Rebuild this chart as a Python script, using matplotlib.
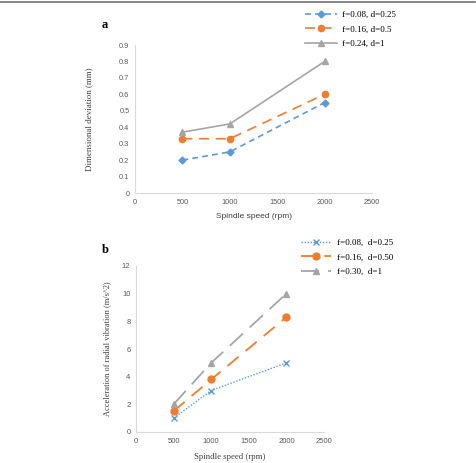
import numpy as np
import matplotlib
matplotlib.use("Agg")
import matplotlib.pyplot as plt
from matplotlib.lines import Line2D

# dane z wykresu
speed = [500, 1000, 2000]

dev_labels = ["f=0.08, d=0.25", "f=0.16, d=0.5", "f=0.24, d=1"]
dev_low = [0.20, 0.25, 0.55]
dev_mid = [0.33, 0.33, 0.60]
dev_high = [0.37, 0.42, 0.80]

acc_labels = ["f=0.08,  d=0.25", "f=0.16,  d=0.50", "f=0.30,  d=1"]
acc_low = [1.0, 3.0, 5.0]
acc_mid = [1.5, 3.8, 8.3]
acc_high = [2.0, 5.0, 10.0]

x_ticks = [0, 500, 1000, 1500, 2000, 2500]
dev_ticks = [0, 0.1, 0.2, 0.3, 0.4, 0.5, 0.6, 0.7, 0.8, 0.9]
acc_ticks = [0, 2, 4, 6, 8, 10, 12]

blue = "#5B9BD5"
orange = "#ED7D31"
gray = "#A5A5A5"
serif = "Liberation Serif"
sans = "Liberation Sans"

W, H = 477, 463
fig = plt.figure(figsize=(W / 100, H / 100), dpi=100)


def px_axes(l, t, r, b):
    return fig.add_axes([l / W, 1 - b / H, (r - l) / W, (b - t) / H])


def style(ax, fs):
    for s in ["top", "right"]:
        ax.spines[s].set_visible(False)
    for s in ["left", "bottom"]:
        ax.spines[s].set_color("#D9D9D9")
        ax.spines[s].set_linewidth(0.8)
    ax.tick_params(length=0, pad=4, labelsize=fs, colors="#595959")
    for lab in ax.get_xticklabels() + ax.get_yticklabels():
        lab.set_fontfamily(sans)


# panel a
ax1 = px_axes(135, 45, 372, 193)
ax1.plot(speed, dev_low, color=blue, lw=1.2, ls=(0, (3.5, 2.5)), marker="D", ms=3.5, label=dev_labels[0])
ax1.plot(speed, dev_mid, color=orange, lw=1.2, ls=(0, (6, 4)), marker="o", ms=4.5, label=dev_labels[1])
ax1.plot(speed, dev_high, color=gray, lw=1.2, marker="^", ms=4.5, label=dev_labels[2])
ax1.set_xlim(0, 2500)
ax1.set_ylim(0, 0.9)
ax1.set_xticks(x_ticks)
ax1.set_yticks(dev_ticks)
ax1.set_yticklabels(["0"] + [f"{v:.1f}" for v in dev_ticks[1:]])
style(ax1, 5.3)
ax1.set_xlabel("Spindle speed (rpm)", fontsize=6, family=sans, color="#404040", labelpad=5)
ax1.set_ylabel("Dimensional deviation (mm)", fontsize=6.5, family=serif, color="#404040", labelpad=19)
fig.legend(handles=ax1.get_lines(), loc="upper left", bbox_to_anchor=(300 / W, 1 - 6 / H),
           frameon=False, prop={"family": serif, "size": 6.5}, handlelength=3.6,
           handletextpad=0.5, labelspacing=0.7, borderpad=0)
fig.text(102 / W, 1 - 25 / H, "a", family=serif, weight="bold", fontsize=9, va="center")

# panel b
ax2 = px_axes(136, 266, 324, 432)
ax2.plot(speed, acc_low, color=blue, lw=1.0, ls=(0, (1, 1.2)), marker="x", ms=4.5, mew=1, label=acc_labels[0])
ax2.plot(speed, acc_mid, color=orange, lw=1.3, ls=(0, (8, 5)), marker="o", ms=5, label=acc_labels[1])
ax2.plot(speed, acc_high, color=gray, lw=1.3, ls=(0, (10, 5)), marker="^", ms=5, label=acc_labels[2])
ax2.set_xlim(0, 2500)
ax2.set_ylim(0, 12)
ax2.set_xticks(x_ticks)
ax2.set_yticks(acc_ticks)
style(ax2, 5.5)
ax2.set_xlabel("Spindle speed (rpm)", fontsize=6.3, family=serif, color="#404040", labelpad=6)
ax2.set_ylabel("Acceleration of radial vibration (m/s^2)", fontsize=6, family=serif, color="#404040", labelpad=8)
fig.legend(handles=ax2.get_lines(), loc="upper left", bbox_to_anchor=(296 / W, 1 - 234 / H),
           frameon=False, prop={"family": serif, "size": 6.5}, handlelength=3.4,
           handletextpad=0.6, labelspacing=0.7, borderpad=0)
fig.text(102 / W, 1 - 250 / H, "b", family=serif, weight="bold", fontsize=9, va="center")

# ramka u góry
fig.add_artist(Line2D([0, 0.995], [1 - 2 / H, 1 - 2 / H], color="#707070", lw=1.2, transform=fig.transFigure))

fig.savefig("out.png", dpi=100)
